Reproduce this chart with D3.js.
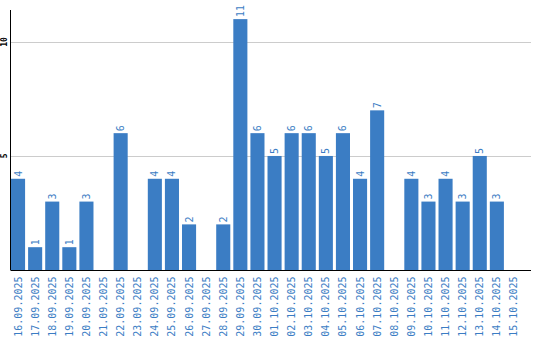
<!DOCTYPE html>
<html>
<head>
<meta charset="utf-8">
<script src="https://cdn.jsdelivr.net/npm/d3@7"></script>
<style>
  body { margin: 0; background: #fff; }
  svg { display: block; }
  text { font-family: "DejaVu Sans Mono", monospace; }
</style>
</head>
<body>
<div id="chart"></div>
<script>
const dates = ["16.09.2025", "17.09.2025", "18.09.2025", "19.09.2025", "20.09.2025",
  "21.09.2025", "22.09.2025", "23.09.2025", "24.09.2025", "25.09.2025",
  "26.09.2025", "27.09.2025", "28.09.2025", "29.09.2025", "30.09.2025",
  "01.10.2025", "02.10.2025", "03.10.2025", "04.10.2025", "05.10.2025",
  "06.10.2025", "07.10.2025", "08.10.2025", "09.10.2025", "10.10.2025",
  "11.10.2025", "12.10.2025", "13.10.2025", "14.10.2025", "15.10.2025"];
const counts = [4, 1, 3, 1, 3, 0, 6, 0, 4, 4, 2, 0, 2, 11, 6, 5, 6, 6, 5, 6, 4, 7, 0, 4, 3, 4, 3, 5, 3, 0];
const yTicks = [5, 10];
const yMax = 11.4;

const W = 540, H = 340;
const mLeft = 10.5, mRight = 531, mTop = 10, mBottom = 270;
const blue = "#3b7dc4";

const svg = d3.select("#chart").append("svg")
  .attr("width", W)
  .attr("height", H);

const x = d3.scaleBand()
  .domain(dates)
  .range([mLeft, mLeft + 17 * dates.length])
  .paddingInner(3 / 17)
  .paddingOuter(0)
  .align(0);

const y = d3.scaleLinear()
  .domain([0, yMax])
  .range([mBottom, mTop]);

// gridlines
svg.append("g")
  .selectAll("line")
  .data(yTicks)
  .join("line")
  .attr("x1", mLeft)
  .attr("x2", mRight)
  .attr("y1", d => Math.round(y(d)) + 0.5)
  .attr("y2", d => Math.round(y(d)) + 0.5)
  .attr("stroke", "#cccccc");

// y tick labels, rotated
svg.append("g")
  .selectAll("text")
  .data(yTicks)
  .join("text")
  .attr("transform", d => `translate(7,${y(d)}) rotate(-90)`)
  .attr("text-anchor", "middle")
  .attr("font-size", 8)
  .attr("font-weight", "bold")
  .attr("fill", "#000")
  .text(d => d);

// bars
svg.append("g")
  .selectAll("rect")
  .data(counts)
  .join("rect")
  .attr("x", (d, i) => x(dates[i]) + 0.5)
  .attr("width", x.bandwidth())
  .attr("y", d => y(d))
  .attr("height", d => mBottom - y(d))
  .attr("fill", blue);

// value labels
svg.append("g")
  .selectAll("text")
  .data(counts.map((v, i) => ({ v, i })).filter(d => d.v > 0))
  .join("text")
  .attr("transform", d => `translate(${x(dates[d.i]) + x.bandwidth() / 2 + 4},${y(d.v) - 2}) rotate(-90)`)
  .attr("text-anchor", "start")
  .attr("font-size", 10)
  .attr("fill", blue)
  .text(d => d.v);

// x labels
svg.append("g")
  .selectAll("text")
  .data(dates)
  .join("text")
  .attr("transform", d => `translate(${x(d) + x.bandwidth() / 2 + 4},276.5) rotate(-90)`)
  .attr("text-anchor", "end")
  .attr("font-size", 10)
  .attr("fill", blue)
  .text(d => d);

// axes lines
svg.append("line")
  .attr("x1", mLeft).attr("x2", mLeft)
  .attr("y1", mTop).attr("y2", mBottom)
  .attr("stroke", "#000");
svg.append("line")
  .attr("x1", mLeft).attr("x2", mRight)
  .attr("y1", mBottom + 0.5).attr("y2", mBottom + 0.5)
  .attr("stroke", "#000");
</script>
</body>
</html>
